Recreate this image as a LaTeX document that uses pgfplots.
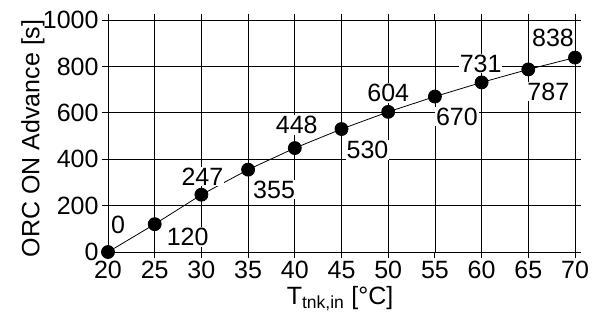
\documentclass[border=0pt]{standalone}
\usepackage{pgfplots}
\pgfplotsset{compat=1.18}
\usepackage{fontspec}
\setmainfont{Liberation Sans}
\begin{document}
\begin{tikzpicture}[x=1bp,y=1bp]
\useasboundingbox (-108,-72) rectangle (490,252);
\begin{axis}[
  at={(0,0)}, anchor=origin,
  scale only axis, width=467bp, height=232bp,
  xmin=20, xmax=70, ymin=0, ymax=1000,
  xtick={20,25,...,70}, ytick={0,200,...,1000},
  grid=major, grid style={black, line width=0.8pt},
  axis line style={black, line width=0.9pt},
  tick style={black, line width=0.9pt},
  tick align=outside, major tick length=6bp,
  tick label style={font=\fontsize{25bp}{29bp}\selectfont},
  /pgf/number format/assume math mode=true,
  /pgf/number format/1000 sep={},
  xticklabel style={yshift=0bp},
  yticklabel style={xshift=0bp},
  xlabel={T\textsubscript{tnk,in} [°C]},
  ylabel={ORC ON Advance [s]},
  label style={font=\fontsize{25bp}{29bp}\selectfont},
  xlabel style={at={(axis description cs:0.497,0)}, anchor=north, yshift=-31bp},
  ylabel style={at={(axis description cs:0,0.49)}, anchor=south, yshift=60bp},
  clip=false,
]
\addplot[black, line width=0.8pt, mark=*, mark size=6.5bp, mark options={fill=black}]
coordinates {(20,0) (25,120) (30,247) (35,355) (40,448) (45,530) (50,604) (55,670) (60,731) (65,787) (70,838)};
\tikzset{lbl/.style={fill=white, inner sep=1bp, font=\fontsize{25bp}{29bp}\selectfont}}
\node[lbl] at ([shift={(10bp,27bp)}]axis cs:20,0) {0};
\node[lbl] at ([shift={(33bp,-13bp)}]axis cs:25,120) {120};
\node[lbl] at ([shift={(1bp,18bp)}]axis cs:30,247) {247};
\node[lbl] at ([shift={(26bp,-20bp)}]axis cs:35,355) {355};
\node[lbl] at ([shift={(2bp,23bp)}]axis cs:40,448) {448};
\node[lbl] at ([shift={(26bp,-21bp)}]axis cs:45,530) {530};
\node[lbl] at ([shift={(0bp,19bp)}]axis cs:50,604) {604};
\node[lbl] at ([shift={(22bp,-20bp)}]axis cs:55,670) {670};
\node[lbl] at ([shift={(-1bp,19bp)}]axis cs:60,731) {731};
\node[lbl] at ([shift={(20bp,-22bp)}]axis cs:65,787) {787};
\node[lbl] at ([shift={(-22bp,20bp)}]axis cs:70,838) {838};
\end{axis}
\end{tikzpicture}
\end{document}
